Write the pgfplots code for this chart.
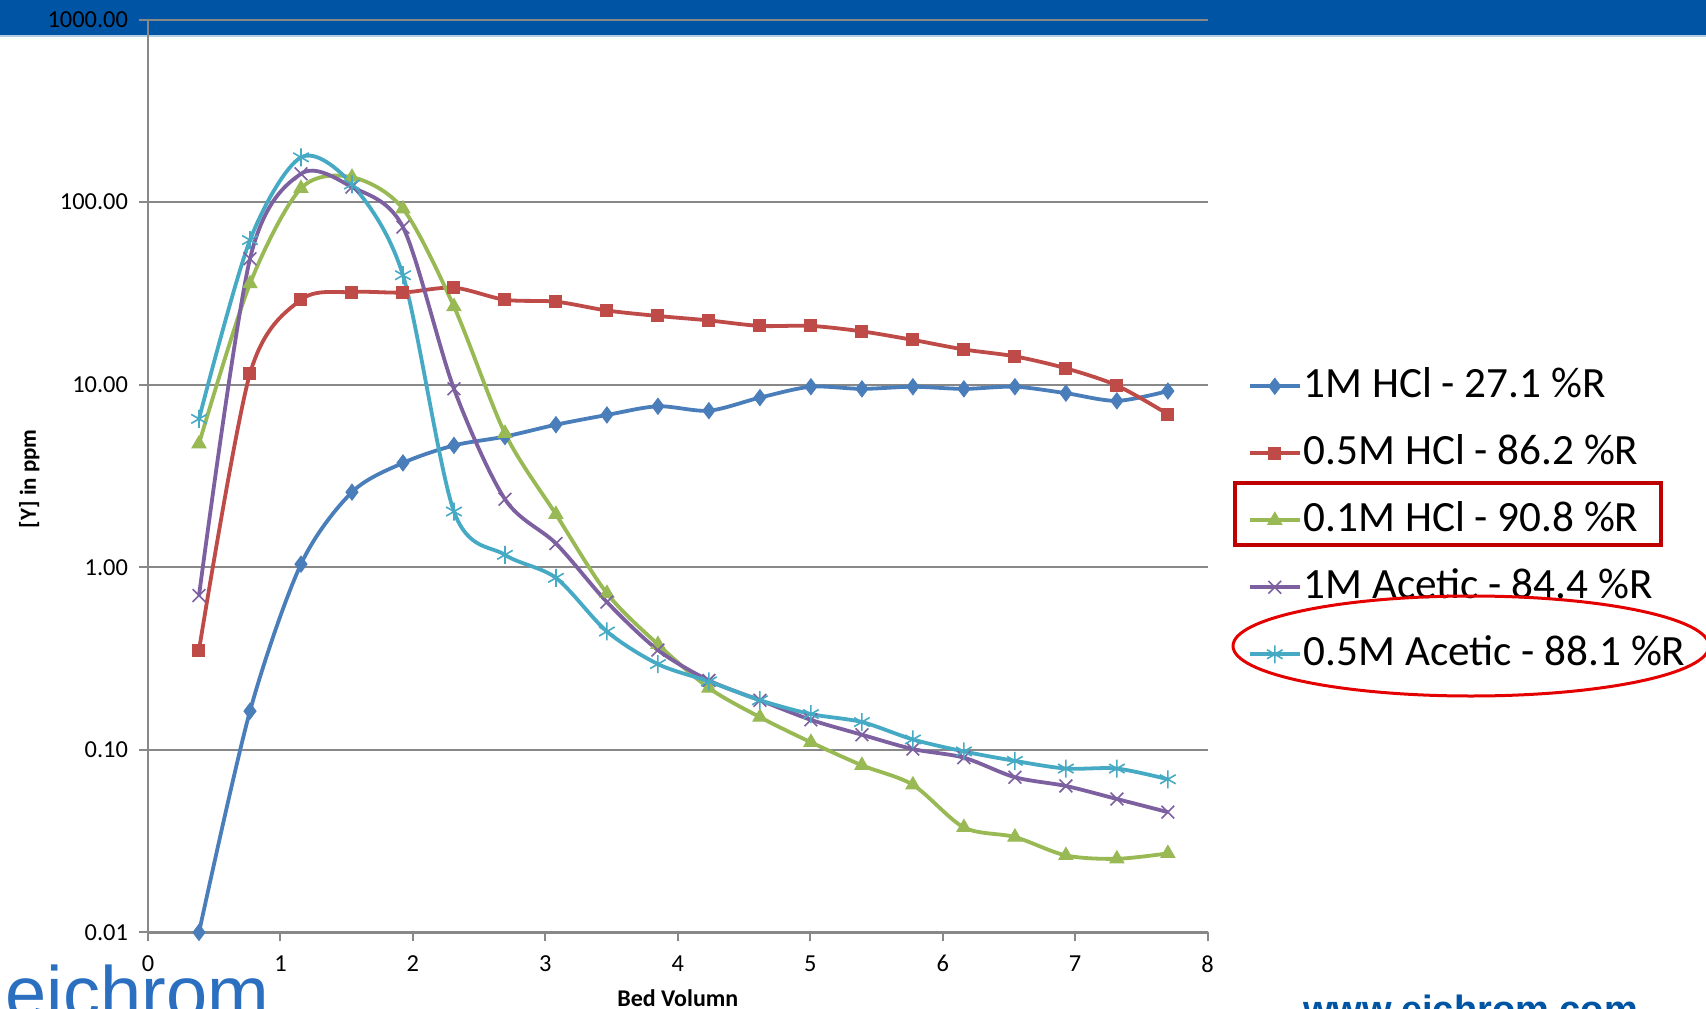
\documentclass[border=0pt]{standalone}
\usepackage{pgfplots}
\pgfplotsset{compat=1.18}
\usepackage{pgfplotstable}
\usepackage{fontspec}
\setmainfont{Carlito}
\newfontfamily\logofont{Liberation Sans}
\definecolor{sBlue}{HTML}{4A7EBB}
\definecolor{sRed}{HTML}{BE4B48}
\definecolor{sGreen}{HTML}{98B954}
\definecolor{sPurple}{HTML}{7D60A0}
\definecolor{sCyan}{HTML}{46AAC5}
\definecolor{banner}{HTML}{0054A4}
\definecolor{gridgray}{HTML}{888888}
\definecolor{logoblue}{HTML}{2A6FC0}

\pgfplotstableread{
x      blue   red    green   purple  cyan
0.385  0.010  0.352  4.75    0.70    6.5
0.770  0.163  11.5   35.8    49      62
1.155  1.04   29.2   119     143     176
1.540  2.58   32.2   137     121     125
1.925  3.73   32.0   92      73      39.8
2.310  4.65   34.0   26.8    9.5     2.02
2.695  5.20   29.2   5.42    2.36    1.17
3.080  6.04   28.5   1.95    1.35    0.875
3.465  6.83   25.5   0.72    0.645   0.445
3.850  7.62   23.8   0.378   0.352   0.295
4.235  7.21   22.5   0.218   0.24    0.237
4.620  8.50   21.0   0.151   0.187   0.187
5.005  9.75   21.0   0.110   0.146   0.157
5.390  9.49   19.6   0.0823  0.121   0.142
5.775  9.75   17.6   0.0643  0.101   0.114
6.160  9.49   15.6   0.0376  0.0906  0.098
6.545  9.75   14.3   0.0333  0.0708  0.087
6.930  8.99   12.3   0.0264  0.0634  0.079
7.315  8.16   9.9    0.0253  0.0538  0.079
7.700  9.23   6.9    0.0271  0.0456  0.069
}\datatable

\begin{document}
\begin{tikzpicture}
\useasboundingbox (0,0) rectangle (853pt,504pt);
\fill[white] (0,0) rectangle (853pt,504pt);
\fill[banner] (0,486pt) rectangle (853pt,504pt);
\draw[white!70!banner, line width=0.6pt] (0,486pt) -- (853pt,486pt);

\begin{axis}[
  at={(74pt,37.8pt)}, anchor=south west,
  scale only axis, width=529.8pt, height=456.4pt,
  ymode=log, ymin=0.01, ymax=1000,
  xmin=0, xmax=8,
  xtick={0,1,2,3,4,5,6,7,8},
  ytick={0.01,0.1,1,10,100,1000},
  yticklabels={0.01,0.10,1.00,10.00,100.00,1000.00},
  log basis y=10,
  minor ytick={},
  axis x line*=bottom, axis y line*=left,
  axis line style={gridgray, line width=1.1pt, -},
  ymajorgrids, major grid style={gridgray, line width=1.1pt},
  tick style={gridgray, line width=1pt},
  major tick length=4.5pt, tick align=outside,
  ticklabel style={font=\fontsize{12.2}{14}\selectfont, text=black},
  xticklabel style={yshift=-3.5pt},
  yticklabel style={xshift=-2pt},
  /pgf/number format/assume math mode=true,
  xlabel={\textbf{Bed Volumn}},
  ylabel={\textbf{[Y] in ppm}},
  x label style={at={(axis description cs:0.5,-0.072)}, anchor=center, font=\fontsize{12}{14}\selectfont},
  y label style={at={(axis description cs:-0.112,0.497)}, anchor=center, font=\fontsize{11.5}{14}\selectfont},
  clip=false,
  every axis plot/.append style={line width=1.9pt, smooth},
  legend image code/.code={\draw[mark repeat=2,mark phase=2,#1] plot coordinates {(0pt,0pt) (12.5pt,0pt) (25pt,0pt)};},
  legend cell align=left,
  legend style={draw=none, fill=none, at={(1.032,0.4515)}, anchor=west,
    font=\fontsize{21.6}{25}\selectfont, row sep=12.5pt,
    nodes={inner sep=1pt, text height=15pt, text depth=4pt}},
]
\addplot[sBlue, mark=diamond*, mark size=4pt, mark options={solid, fill=sBlue, line width=0.5pt}] table[x=x, y=blue] {\datatable};
\addlegendentry{1M HCl - 27.1 \%R}
\addplot[sRed, mark=square*, mark size=3pt, mark options={solid, fill=sRed, line width=0.5pt}] table[x=x, y=red] {\datatable};
\addlegendentry{0.5M HCl - 86.2 \%R}
\addplot[sGreen, mark=triangle*, mark size=4pt, mark options={solid, fill=sGreen, line width=0.5pt}] table[x=x, y=green] {\datatable};
\addlegendentry{0.1M HCl - 90.8 \%R}
\addplot[sPurple, mark=x, mark size=4.5pt, mark options={solid, line width=0.8pt}] table[x=x, y=purple] {\datatable};
\addlegendentry{1M Acetic - 84.4 \%R}
\addplot[sCyan, mark=asterisk, mark size=4.5pt, mark options={solid, line width=0.8pt}] table[x=x, y=cyan] {\datatable};
\addlegendentry{0.5M Acetic - 88.1 \%R}
\end{axis}

% annotations
\draw[red!75!black, line width=2pt] (617.5pt,231.5pt) rectangle (830.5pt,262.5pt);
\draw[red!90!black, line width=1.5pt] (735.5pt,181pt) ellipse [x radius=119pt, y radius=25pt];

% logo and url
\node[anchor=base west, inner sep=0pt, text=logoblue, font=\logofont\fontsize{37}{40}\selectfont] at (2.7pt,-5pt) {eichrom};
\node[anchor=base west, inner sep=0pt, text=banner, font=\logofont\bfseries\fontsize{19}{22}\selectfont] at (651.5pt,-7pt) {www.eichrom.com};
\end{tikzpicture}
\end{document}
